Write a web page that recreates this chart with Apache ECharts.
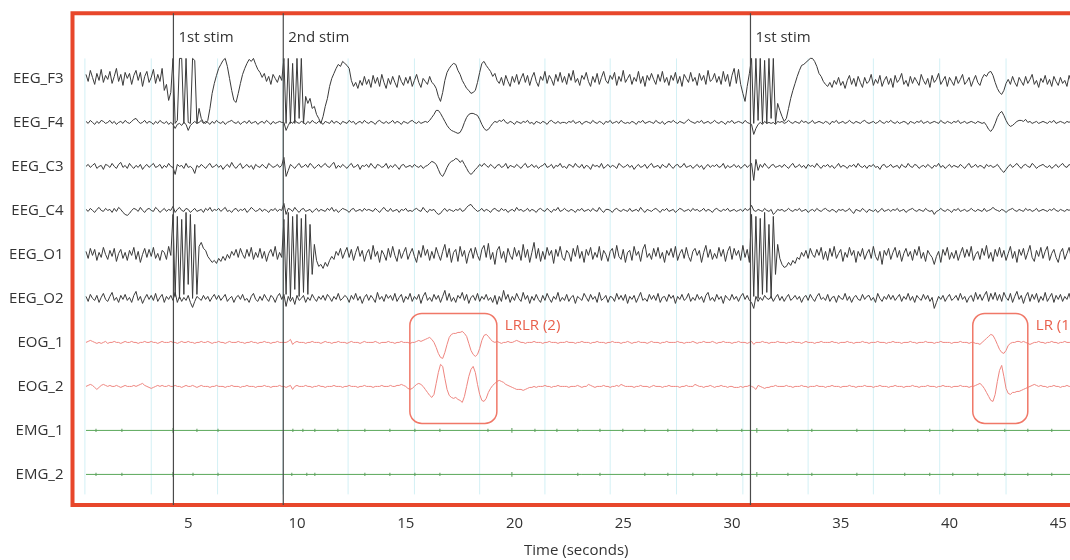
<!DOCTYPE html>
<html>
<head>
<meta charset="utf-8">
<title>EEG recording</title>
<script src="https://cdn.jsdelivr.net/npm/echarts@6/dist/echarts.min.js"></script>
<style>
  html, body { margin: 0; padding: 0; background: #fff; overflow: hidden; }
  /* the plot runs on past the right edge of the window, as in the original crop */
  #chart { width: 1090px; height: 560px; }
</style>
</head>
<body>
<div id="chart"></div>
<script>
// channels, top to bottom
const channels = ['EEG_F3', 'EEG_F4', 'EEG_C3', 'EEG_C4', 'EEG_O1', 'EEG_O2', 'EOG_1', 'EOG_2', 'EMG_1', 'EMG_2']

// traces: first sample at T0 seconds, one sample every DT seconds
// values = deflection (up is positive), 44 units = one channel row
const T0 = 0.3
const DT = 0.1
const ROW = 44

const eegF3 = [
  4,-3,8,1,-6,5,-2,9,-4,3,
  -1,7,-5,2,10,-3,4,-7,6,0,
  5,-6,3,8,-2,6,-8,2,7,-4,
  1,9,-5,4,-3,10,-12,-6,-22,-14,
  20,-45,-42,20,20,-45,20,-44,-45,20,
  18,-45,-30,-40,-44,-45,-42,-30,-15,-5,
  3,10,14,18,20,12,0,-12,-22,-24,
  -15,-5,4,10,15,19,17,20,14,9,
  6,1,5,-3,2,-6,4,0,-4,3,
  -2,20,-45,20,-45,15,-45,20,-40,20,
  -45,-18,-25,-20,-30,-28,-36,-40,-45,-38,
  -28,-20,-8,0,5,10,14,12,17,15,
  13,10,-2,-8,-4,-10,-2,-7,2,-6,
  -1,-9,3,-5,1,-8,4,-4,-10,0,
  -6,2,-4,-9,3,-3,-7,1,-5,2,
  -8,-2,4,-4,-9,0,-3,-6,2,-4,
  -6,-10,-18,-23,-14,-2,6,10,13,15,
  14,8,4,-2,-6,-10,-12,-15,-14,-12,
  -4,6,15,17,13,10,7,2,5,-2,
  -5,1,-7,3,-3,-8,2,-4,4,-6,
  0,5,-4,3,-7,1,6,-3,-8,2,
  -2,7,-5,3,-1,-7,4,-3,6,-4,
  2,-6,5,-2,8,-4,0,-7,3,-1,
  6,-3,-8,2,-4,5,-6,1,7,-2,
  -5,3,-1,6,-7,2,-3,8,-4,0,
  4,-6,1,-3,7,-5,2,-8,3,-2,
  5,-1,-6,4,-3,7,-4,1,-7,3,
  -2,6,-5,2,-8,4,0,-4,6,-3,
  1,-7,5,-2,3,-6,8,-3,-1,5,
  -4,2,-6,7,-3,4,-8,3,10,-5,
  9,-6,-15,-23,-8,5,20,-45,20,-42,
  20,-45,18,-45,20,-40,20,-45,-25,-32,
  -38,-43,-40,-30,-20,-12,-5,2,8,13,
  14,16,18,20,20,17,12,5,2,-3,
  -6,-8,-4,-9,-2,-6,1,-7,-3,-10,
  -2,3,-6,0,-8,2,-4,-9,1,-5,
  -3,4,-7,-1,-5,3,-8,-2,2,-6,
  0,-9,3,-4,-1,5,-6,-2,-8,2,
  -5,1,-3,-7,4,-2,-6,0,-9,3,
  -4,-1,5,-6,-2,2,-8,1,-3,-7,
  2,-5,-1,4,-6,-3,1,-8,-2,3,
  -4,-7,0,4,2,6,7,3,-4,-10,
  -14,-16,-12,-5,-1,-6,2,-4,-8,1,
  -3,-7,2,-5,-1,4,-6,-2,-9,0,
  -4,3,-6,-1,-8,2,-3,-7,1,-5,
  -2,-8,3,-4,0,-6,-1
]

const eegF4 = [
  1,-1,2,0,-2,1,-1,2,1,-1,
  0,2,-1,1,-2,0,1,-1,2,0,
  -1,1,3,4,1,-1,0,2,-1,1,
  0,-2,1,-1,2,0,-1,1,-2,0,
  -2,-6,-2,-1,-3,0,-2,-8,-3,-1,
  1,-1,0,2,-1,1,0,-2,1,-1,
  2,0,-1,1,-2,0,1,2,0,-1,
  1,-2,0,1,-1,2,-1,0,1,-2,
  0,1,-1,2,0,-2,1,-1,0,1,
  0,0,-8,-3,1,-1,2,0,-1,1,
  0,-2,1,-1,2,0,-1,1,0,-2,
  1,0,-1,2,-1,1,0,-2,1,0,
  -1,2,0,1,-2,0,1,-1,2,0,
  -1,1,0,-2,1,2,0,-1,1,-1,
  0,2,-1,1,0,-2,1,0,-1,1,
  2,0,-1,1,-1,0,1,0,2,5,
  8,12,12,9,5,1,-3,-6,-8,-9,
  -10,-11,-10,-6,0,5,8,9,9,8,
  7,3,-2,-6,-8,-7,-4,-1,1,0,
  2,1,3,0,-1,1,0,-2,1,0,
  -1,1,0,2,-1,0,-2,1,0,-1,
  1,0,-2,1,2,0,-1,1,-1,0,
  0,-1,1,0,2,-1,0,1,-2,0,
  1,0,-1,2,0,-1,1,0,-2,1,
  0,2,-1,0,1,-1,2,0,-1,0,
  -1,1,0,-2,1,0,2,-1,0,1,
  0,-1,2,0,-1,1,-2,0,1,0,
  2,0,-1,1,0,-1,1,3,1,0,
  -1,1,0,2,-1,0,1,-1,0,2,
  0,-1,1,0,-2,1,0,2,-1,0,
  1,0,-1,2,0,-1,-2,-12,-6,-2,
  0,-2,1,-1,0,-1,0,-2,1,0,
  1,-1,0,2,0,-1,1,0,-1,2,
  0,1,-1,0,2,-1,0,1,0,-1,
  1,0,-2,1,0,2,-1,0,1,-1,
  0,2,0,-1,1,0,-1,1,2,0,
  -1,0,1,-1,0,2,0,-1,1,0,
  2,0,-1,1,-1,0,1,0,-2,1,
  0,-1,1,0,2,-1,0,1,-1,0,
  1,0,-1,2,0,-1,1,0,-1,1,
  0,2,-1,0,1,-1,0,1,0,-1,
  1,0,-1,0,-3,-7,-9,-6,-1,5,
  9,11,7,2,-2,-4,-3,-1,1,2,
  2,1,3,0,1,-1,0,1,-1,0,
  1,0,-1,1,0,2,-1,0,1,0,
  -1,1,0,2,0,-1,1
]

const eegC3 = [
  0,2,-1,1,3,-2,0,1,-3,2,
  1,-1,3,0,-2,2,4,-1,1,-2,
  3,0,-2,1,-1,2,-3,0,2,-1,
  1,3,-1,0,2,-2,1,-1,3,0,
  -1,-8,2,0,1,-2,3,-1,0,-2,
  -7,1,-1,2,0,-2,1,3,-1,0,
  2,-1,1,-3,0,2,-1,4,0,-2,
  1,3,-2,0,2,-1,1,-3,2,0,
  -1,2,0,-2,3,1,-1,0,2,-1,
  1,9,-10,-4,2,0,-2,1,3,-1,
  0,2,-1,3,1,-2,0,2,-1,1,
  3,0,-1,2,4,-2,1,-1,2,0,
  -2,1,3,-1,0,2,-3,1,0,2,
  -1,3,0,-2,2,1,-1,0,3,-2,
  1,-1,2,0,-3,1,2,-1,0,1,
  -1,2,0,-1,1,-2,0,1,3,5,
  4,2,-3,-8,-10,-6,-1,3,5,6,
  8,7,4,6,2,-2,-6,-8,-6,-3,
  -1,2,0,3,1,-1,2,0,-2,1,
  2,-1,0,3,-2,1,0,-1,2,0,
  -2,1,3,-1,0,2,-1,1,-2,0,
  1,3,-1,0,2,-2,1,0,3,-1,
  0,-2,2,1,-1,3,0,-1,2,-2,
  1,0,-3,2,0,1,-1,3,-2,0,
  2,-1,1,0,-2,3,1,-1,0,2,
  -1,1,-3,0,2,-1,0,2,-2,1,
  3,-1,0,1,-2,2,0,-1,3,0,
  -2,1,2,-1,0,3,-1,0,1,-2,
  0,2,-1,1,-3,0,2,-1,1,0,
  2,-1,0,3,-2,1,-1,0,2,-1,
  1,-2,0,2,-1,1,3,-14,7,-4,
  2,-1,3,0,-2,1,2,-1,0,1,
  -1,2,0,-2,1,3,-1,0,2,-1,
  1,-2,2,0,1,-1,3,0,-2,1,
  0,2,-1,1,-2,0,3,-1,1,0,
  -2,1,0,2,-1,3,0,-1,1,-2,
  1,0,2,-1,0,-3,1,2,-1,0,
  2,-1,0,1,-2,2,0,-1,3,0,
  -1,2,1,-2,0,1,-1,2,0,-2,
  1,0,3,-1,1,-2,0,2,-1,1,
  0,-1,2,0,-2,1,3,-1,0,2,
  -1,1,0,-2,2,0,1,-1,0,2,
  -1,-4,-6,-3,0,2,-1,1,3,0,
  -2,1,2,0,-1,3,1,-2,0,1,
  2,0,-1,1,-2,0,2,-1,1,3,
  0,-1,2,0,-2,1,0
]

const eegC4 = [
  1,-1,2,0,-2,1,3,0,-1,2,
  0,1,-2,2,-1,3,1,-2,-4,-5,
  -3,0,2,1,-1,3,0,-2,1,2,
  0,-1,3,1,-2,0,2,-1,1,0,
  4,-2,1,3,0,-1,2,1,-2,0,
  2,-1,0,1,-2,2,0,3,-1,1,
  0,2,-1,1,3,-1,0,-2,1,2,
  -1,1,0,2,-2,0,3,1,-1,0,
  2,-1,1,0,-2,1,0,2,-1,1,
  0,7,-4,2,1,-1,3,0,-2,1,
  2,-1,0,1,-2,0,2,-1,1,0,
  -1,2,0,3,-1,1,-2,0,2,1,
  0,-2,1,2,-1,0,1,-1,2,0,
  1,0,-1,2,0,-2,1,3,0,-1,
  2,-1,0,1,-2,1,0,2,-1,0,
  -1,1,2,0,-1,3,0,-2,1,0,
  1,-2,-4,-3,0,2,-1,1,0,-1,
  1,0,2,-1,0,3,5,6,3,1,
  -1,0,2,-1,1,0,-2,1,2,0,
  -1,2,0,1,-2,0,1,-1,3,0,
  1,-1,0,2,-1,1,0,-2,1,2,
  0,-1,2,0,-2,1,0,3,-1,0,
  2,0,-1,1,0,-2,1,0,2,-1,
  0,1,-1,2,0,-1,3,0,-2,1,
  1,0,-2,1,2,0,-1,1,0,-1,
  2,-1,0,1,-1,3,0,-2,1,0,
  -1,1,2,0,-2,1,0,2,-1,0,
  1,-2,0,2,1,-1,0,1,-1,2,
  0,1,-1,0,2,-1,1,0,-2,1,
  2,0,-1,1,0,2,-1,0,1,-1,
  0,1,-1,2,0,1,5,0,-1,1,
  0,-1,2,0,-1,1,-4,-2,1,0,
  1,-1,0,2,0,-1,1,0,2,-1,
  0,1,-2,0,1,-1,2,0,-1,1,
  2,0,-1,1,0,-2,1,0,1,-1,
  0,2,-1,-3,1,0,-1,2,0,-2,
  1,0,-1,1,-2,0,2,-1,0,1,
  -1,1,0,2,-1,0,1,-2,0,1,
  2,0,-1,1,0,-1,2,0,-1,0,
  -4,-1,0,2,0,-1,1,0,-2,1,
  0,2,-1,0,1,-1,0,2,0,-1,
  1,0,-1,2,-1,0,1,3,1,0,
  -1,1,0,-2,0,1,2,0,-1,1,
  0,-1,2,0,1,-1,0,2,-1,0,
  1,0,-1,1,0,2,0,-1,1,0,
  -1,1,0,2,-1,0,1
]

const eegO1 = [
  3,-4,6,-1,5,-6,2,-3,7,0,
  -5,4,-2,6,-7,1,5,-4,2,-6,
  4,-1,7,-5,3,-8,0,6,-3,5,
  -2,7,-4,1,-6,4,2,-5,8,-1,
  40,-42,38,-44,35,-40,42,-30,40,-44,
  30,-40,8,12,6,4,-2,-5,-8,-6,
  -9,-4,-7,-2,-6,0,-4,3,-1,5,
  -3,6,0,-4,5,-2,7,-5,2,-3,
  6,-4,3,-7,1,5,-2,8,-5,2,
  -3,35,-40,42,-44,38,-35,40,-42,36,
  -38,40,-40,30,-20,10,-6,-12,-10,-14,
  -8,-12,-6,-2,-5,3,-1,6,-4,2,
  7,-3,5,-6,2,8,-2,4,-7,1,
  5,-5,9,-2,3,-8,4,0,-6,6,
  -3,8,-1,-7,5,-4,2,7,-5,1,
  6,-2,-8,4,-3,9,-1,5,-6,3,
  -4,7,0,-6,3,10,-3,6,-8,2,
  5,-7,8,-2,4,-9,1,6,-4,7,
  -1,-6,5,9,-3,11,-5,2,-10,4,
  8,-4,3,-8,6,-1,-5,7,-2,4,
  -6,10,-3,5,-8,2,12,-4,6,-7,
  3,-5,7,-1,4,-9,5,-2,8,-3,
  -6,4,1,-7,6,-2,9,-4,3,-8,
  5,-1,7,-5,2,-3,8,-6,4,0,
  -7,3,6,-4,9,-2,-5,5,-8,2,
  4,-6,8,-1,3,-7,5,10,-3,1,
  -5,6,-2,7,-4,2,-8,4,-1,6,
  -3,8,-6,1,5,-4,7,-2,-7,3,
  6,-1,4,-8,2,9,-3,5,-5,1,
  -4,7,-2,5,-7,3,8,-5,6,-1,
  4,-6,9,-3,5,-8,40,-42,38,-44,
  36,-40,42,-38,30,-44,38,-20,10,-4,
  -10,-13,-12,-8,-11,-6,-9,-3,-5,2,
  -2,4,-4,6,0,-3,5,-1,7,-5,
  3,-6,6,-2,8,-4,1,5,-7,2,
  -3,7,-1,4,-8,3,-2,6,-5,1,
  5,-4,8,-2,-6,3,-10,4,-1,6,
  -5,2,7,-3,4,-7,1,6,-2,3,
  -6,5,-1,8,-4,2,-7,4,0,-3,
  -10,-2,3,-8,5,-1,7,-5,2,-4,
  4,-6,1,7,-3,5,-2,8,-6,0,
  3,-5,6,-1,9,-4,2,-7,5,-2,
  7,-3,4,-6,1,8,-4,3,-8,5,
  -1,6,-5,2,9,-3,-7,4,-2,7,
  -4,3,8,-6,1,5,-3,-8,2,6,
  -5,1,7,-4,3,-9,2
]

const eegO2 = [
  2,-3,4,0,-2,3,-4,1,5,-1,
  -3,2,6,-2,1,-4,3,-1,4,-2,
  1,-4,3,7,-2,2,-5,0,4,-1,
  3,-2,5,-3,1,4,-4,2,-1,3,
  -2,6,-4,2,-3,1,-2,3,-4,-9,
  -3,2,0,-2,3,-1,2,-3,1,4,
  -1,3,-2,1,4,-3,0,2,-4,1,
  3,-1,4,-2,0,-4,2,5,-1,-3,
  2,-2,4,0,-3,3,1,-4,2,5,
  -1,4,-8,2,-3,1,-6,3,-2,0,
  3,-4,1,-2,4,0,-3,2,-1,3,
  -2,4,1,-3,2,-1,5,-2,0,3,
  1,-4,3,-1,5,-2,2,-5,1,4,
  -2,3,0,-4,6,-1,2,-3,4,0,
  3,-2,5,-3,1,4,-4,2,-1,5,
  -3,2,-1,4,-5,2,6,-2,1,-3,
  4,-1,3,-4,2,8,-2,5,-3,1,
  -4,3,0,6,-2,4,-5,1,3,-2,
  5,-3,2,-1,4,-2,1,-4,3,-6,
  2,-3,8,-1,4,-4,2,-2,5,0,
  -3,6,-1,3,-5,2,-2,4,-1,-4,
  3,-2,5,0,-4,2,-1,6,-3,1,
  -2,4,-3,1,3,-5,2,0,-2,5,
  1,-3,4,-1,2,-4,6,-2,0,3,
  -4,2,1,-3,5,-1,3,-2,4,-5,
  2,-1,3,-4,1,6,-2,0,-3,4,
  -1,3,-2,5,-4,1,2,-3,4,0,
  3,-5,2,-1,4,-2,0,5,-3,1,
  -2,4,-1,2,-4,3,6,-2,1,-3,
  4,-1,2,-5,3,0,-2,4,-1,2,
  -3,2,5,-1,3,-2,-4,-10,2,-3,
  1,-2,3,0,-1,2,-3,1,4,-2,
  2,-3,1,4,-2,0,3,-1,2,-4,
  1,3,-2,4,0,-3,2,5,-1,1,
  -2,4,-3,1,2,-4,3,0,-1,5,
  -2,2,-4,1,3,-1,-2,4,-1,2,
  3,-2,1,-4,5,0,-3,2,-1,4,
  -1,3,-2,1,4,-3,2,-1,5,-2,
  2,-4,3,0,-2,4,-1,3,-3,1,
  -10,-4,2,-1,3,-3,1,4,-2,0,
  3,-2,5,-1,2,-4,1,3,-3,6,
  -1,4,-2,3,7,-3,5,-1,6,-2,
  4,-3,6,1,-2,5,-4,2,7,-1,
  3,-5,2,6,-3,4,-1,5,-4,2,
  -2,6,-3,1,5,-4,3,-1,4,-3,
  2,-1,5,-4,3,0,-2
]

const eog1 = [
  0,1,2,1,0,-1,0,-1,0,1,
  -1,0,0,1,0,0,-1,0,1,0,
  0,1,0,0,-1,0,0,1,0,0,
  1,0,0,-1,0,1,0,0,0,1,
  0,0,-1,0,1,0,0,1,0,0,
  -1,0,0,1,0,0,1,0,-1,0,
  0,1,0,0,-1,0,1,0,0,0,
  1,0,0,-1,0,0,1,0,0,-1,
  0,0,1,0,0,-1,0,0,1,0,
  0,0,0,1,3,-2,0,1,0,0,
  0,-1,0,0,1,0,0,0,-1,0,
  1,0,0,-1,0,0,1,0,0,0,
  -1,0,1,0,0,0,-1,0,1,0,
  0,0,0,1,0,-1,0,0,0,1,
  0,0,-1,0,0,1,0,0,0,-1,
  0,0,1,2,1,2,3,4,5,3,
  0,-5,-11,-15,-16,-10,-2,5,8,9,
  9,10,10,11,9,6,-1,-8,-12,-14,
  -12,-6,2,7,8,6,3,1,0,1,
  0,-1,0,0,1,0,0,1,2,1,
  0,0,-1,0,0,0,1,0,0,0,
  -1,0,0,1,0,0,0,-1,0,0,
  0,1,0,0,0,-1,0,0,1,0,
  0,0,-1,0,0,1,0,0,0,-1,
  0,0,1,0,0,0,-1,0,0,1,
  0,-1,0,0,1,0,0,0,-1,0,
  1,0,0,0,-1,0,0,1,0,0,
  0,0,1,0,0,-1,0,0,0,1,
  0,-1,0,0,1,0,0,0,1,0,
  -1,0,0,1,0,0,0,-1,0,0,
  1,0,0,0,-1,0,1,-2,0,0,
  0,1,0,0,-1,0,0,0,1,0,
  0,0,-1,0,0,1,0,0,0,-1,
  0,1,0,0,0,-1,0,0,1,0,
  0,0,0,1,0,0,-1,0,0,0,
  1,0,0,-1,0,0,0,1,0,0,
  -1,0,0,0,1,0,0,0,-1,0,
  0,1,0,0,0,-1,0,0,0,1,
  0,0,-1,0,0,0,1,0,0,0,
  -1,0,0,1,0,0,0,0,-1,0,
  0,0,1,0,0,0,-1,0,0,-1,
  -1,-2,0,2,4,6,8,7,3,-2,
  -7,-10,-11,-8,-3,-1,0,0,1,1,
  0,1,0,-1,-2,-1,0,0,1,0,
  0,-1,0,0,1,0,0,-1,0,0,
  1,0,0,0,-1,0,0
]

const eog2 = [
  0,1,2,1,-1,-3,-1,1,2,1,
  0,1,0,0,1,0,-1,0,1,0,
  0,0,1,0,1,2,3,1,0,-1,
  -2,-1,0,1,0,1,0,0,1,0,
  0,1,0,0,-1,0,1,0,0,1,
  0,-1,0,1,0,0,0,-1,0,0,
  1,0,0,0,-1,0,0,1,0,0,
  0,-1,0,0,1,0,0,0,-1,0,
  0,0,1,0,0,-1,0,0,0,1,
  0,0,-1,0,1,-3,0,1,0,0,
  0,1,0,0,-1,0,0,1,0,0,
  -1,0,0,0,1,0,0,0,-1,0,
  0,1,0,0,0,-1,0,0,1,0,
  0,0,-1,0,0,0,1,0,0,0,
  1,0,0,1,1,2,1,0,-2,-3,
  -2,0,2,3,2,0,-3,-6,-9,-11,
  -8,3,14,22,20,8,-3,-9,-11,-12,
  -11,-13,-14,-16,-10,0,10,17,20,14,
  2,-8,-14,-15,-12,-6,-2,1,3,5,
  6,5,4,2,1,0,-1,-2,-3,-3,
  -3,-4,-3,-2,-1,-1,0,-1,0,0,
  0,1,0,0,-1,0,0,1,0,0,
  0,0,-1,0,0,0,1,0,-1,0,
  0,2,1,0,-1,0,0,0,1,0,
  0,-1,0,0,1,0,2,1,0,0,
  0,0,-1,0,0,1,0,0,0,-1,
  0,1,0,0,0,-1,0,0,1,0,
  0,0,0,-1,0,0,1,0,0,0,
  2,1,0,0,-1,0,0,1,0,-1,
  0,0,1,0,0,-1,0,0,-1,-1,
  -1,0,-1,0,0,1,0,-1,-3,1,
  0,-1,-2,-1,-1,0,0,1,0,0,
  0,0,1,0,0,-1,0,0,0,1,
  0,0,-1,0,0,0,1,0,0,0,
  -1,0,0,1,0,0,0,-1,0,0,
  0,1,0,0,-1,0,0,0,1,0,
  0,0,-1,0,0,1,0,0,0,-1,
  0,0,1,0,0,0,-1,0,0,0,
  1,0,0,-1,0,0,0,1,0,0,
  0,-1,0,0,1,0,0,0,-1,0,
  0,0,1,0,0,0,-1,0,0,1,
  2,3,1,-2,-6,-10,-14,-15,-8,5,
  16,21,10,-2,-7,-8,-6,-6,-5,-5,
  -4,-3,-2,-1,0,1,2,1,0,1,
  0,0,-1,0,0,1,0,0,-1,0,
  0,1,0,0,-1,0,0
]

// EMG rows are flat with small ticks: [time s, tick height]
const emg1Ticks = [
  [0.76,2],[1.95,2],[4.30,3],[5.40,2],[6.37,2],[9.81,2],[10.27,2],[10.82,2],[11.88,2],
  [13.12,2],[14.27,2],[15.42,2],[16.57,2],[18.78,2],[19.88,3],[20.94,2],[21.95,2],
  [22.91,2],[23.93,2],[24.98,2],[25.99,2],[27.05,2],[28.2,2],[29.3,2],[30.45,2],
  [31.14,3],[32.57,2],[33.67,2],[35.74,2],[37.94,2],[39.09,2],[40.15,2],[41.3,2],
  [42.54,2],[43.6,2],[44.7,2]
]
const emg2Ticks = [
  [0.76,2],[1.95,2],[4.30,3],[5.22,2],[6.37,2],[9.76,2],[10.45,2],[10.82,2],
  [13.12,2],[14.27,2],[15.42,2],[16.57,2],[19.88,3],[22.91,2],[23.93,2],[25.99,2],
  [27.05,2],[28.2,2],[29.3,2],[30.45,2],[31.14,3],[32.57,2],[33.67,2],[35.74,2],
  [37.94,2],[39.09,2],[40.15,2],[41.3,2],[42.54,2],[43.6,2],[44.7,2]
]
const T_END = 45.9

// annotations
const stimTimes = [4.32, 9.37, 30.85]
const stimNames = ['1st stim', '2nd stim', '1st stim']
const gridTimes = [0.25, 3.3, 6.35, 9.35, 12.35, 15.4, 18.4, 21.4, 24.4, 27.45, 30.5, 33.5, 36.5, 39.55, 42.6, 45.6]
const eogEvents = [[15.19, 19.19], [41.07, 43.6]]
const eogEventNames = ['LRLR (2)', 'LR (1)']
const xTicks = [5, 10, 15, 20, 25, 30, 35, 40, 45]

const FONT = '"Open Sans", "Noto Sans", sans-serif'

function toRow(values, row) {
  return values.map((v, i) => [+(T0 + i * DT).toFixed(2), row - v / ROW])
}

function trace(name, data, color) {
  return {
    name: name,
    type: 'line',
    data: data,
    showSymbol: false,
    z: 3,
    lineStyle: { color: color, width: 1 },
    emphasis: { disabled: true }
  }
}

function emgBase(name, row) {
  return trace(name, [[T0, row], [T_END, row]], EMG)
}

function emgTicks(name, ticks, row) {
  return {
    name: name + ' ticks',
    type: 'scatter',
    z: 4,
    silent: true,
    symbol: 'rect',
    symbolSize: v => [1.3, v[2] * 1.6],
    itemStyle: { color: '#5f9f5f' },
    data: ticks.map(([t, h]) => [t, row, h])
  }
}

const EEG = '#3a3a3a'
const EOG = '#ef8680'
const EMG = '#5aa85a'

const chart = echarts.init(document.getElementById('chart'))
chart.setOption({
  backgroundColor: '#fff',
  animation: false,
  grid: {
    left: 72.5,
    right: 10,
    top: 13.3,
    bottom: 55,
    outerBoundsMode: 'none',
    show: true,
    borderColor: '#e8472b',
    borderWidth: 4,
    backgroundColor: 'transparent'
  },
  xAxis: {
    type: 'value',
    min: -0.32,
    max: 46,
    axisLine: { show: false },
    axisTick: { show: false },
    splitLine: { show: false },
    axisLabel: {
      customValues: xTicks,
      color: '#333',
      fontSize: 15,
      fontFamily: FONT,
      margin: 11
    },
    name: 'Time (seconds)',
    nameLocation: 'middle',
    nameGap: 38,
    nameTextStyle: { color: '#333', fontSize: 15, fontFamily: FONT }
  },
  yAxis: {
    type: 'value',
    inverse: true,
    min: -1.48,
    max: 9.695,
    axisLine: { show: false },
    axisTick: { show: false },
    splitLine: { show: false },
    axisLabel: {
      customValues: [0, 1, 2, 3, 4, 5, 6, 7, 8, 9],
      formatter: v => channels[Math.round(v)],
      color: '#333',
      fontSize: 15,
      fontFamily: FONT,
      margin: 9
    }
  },
  series: [
    {
      name: 'grid',
      type: 'custom',
      z: 1,
      silent: true,
      data: gridTimes.map(t => [t, 0]),
      encode: { x: 0, y: 1 },
      renderItem(params, api) {
        const top = api.coord([api.value(0), -0.4545])
        const bot = api.coord([api.value(0), 9.4545])
        return {
          type: 'line',
          shape: { x1: top[0], y1: top[1], x2: bot[0], y2: bot[1] },
          style: { stroke: '#d3f0f5', lineWidth: 1 }
        }
      }
    },
    trace('EEG_F3', toRow(eegF3, 0), EEG),
    trace('EEG_F4', toRow(eegF4, 1), EEG),
    trace('EEG_C3', toRow(eegC3, 2), EEG),
    trace('EEG_C4', toRow(eegC4, 3), EEG),
    trace('EEG_O1', toRow(eegO1, 4), EEG),
    trace('EEG_O2', toRow(eegO2, 5), EEG),
    trace('EOG_1', toRow(eog1, 6), EOG),
    trace('EOG_2', toRow(eog2, 7), EOG),
    emgBase('EMG_1', 8),
    emgBase('EMG_2', 9),
    emgTicks('EMG_1', emg1Ticks, 8),
    emgTicks('EMG_2', emg2Ticks, 9),
    {
      name: 'stim',
      type: 'custom',
      z: 5,
      silent: true,
      data: stimTimes.map(t => [t, 0]),
      encode: { x: 0, y: 1 },
      renderItem(params, api) {
        const cs = params.coordSys
        const x = api.coord([api.value(0), 0])[0]
        const ty = api.coord([api.value(0), -0.93])[1]
        return {
          type: 'group',
          children: [
            {
              type: 'line',
              shape: { x1: x, y1: cs.y, x2: x, y2: cs.y + cs.height },
              style: { stroke: '#4a4a4a', lineWidth: 1.2 }
            },
            {
              type: 'text',
              x: x + 5,
              y: ty,
              style: { text: stimNames[params.dataIndex], fill: '#333', font: '15px ' + FONT, verticalAlign: 'middle' }
            }
          ]
        }
      }
    },
    {
      name: 'eog events',
      type: 'custom',
      z: 6,
      silent: true,
      clip: false,
      data: eogEvents,
      encode: { x: [0, 1] },
      renderItem(params, api) {
        const p0 = api.coord([api.value(0), 6 - 0.66])
        const p1 = api.coord([api.value(1), 7 + 0.84])
        return {
          type: 'group',
          children: [
            {
              type: 'rect',
              shape: { x: p0[0], y: p0[1], width: p1[0] - p0[0], height: p1[1] - p0[1], r: 12 },
              style: { fill: 'none', stroke: '#f07868', lineWidth: 1.5 }
            },
            {
              type: 'text',
              x: p1[0] + 8,
              y: p0[1] + 12,
              style: { text: eogEventNames[params.dataIndex], fill: '#e9604c', font: '15px ' + FONT, verticalAlign: 'middle' }
            }
          ]
        }
      }
    }
  ]
})
</script>
</body>
</html>
